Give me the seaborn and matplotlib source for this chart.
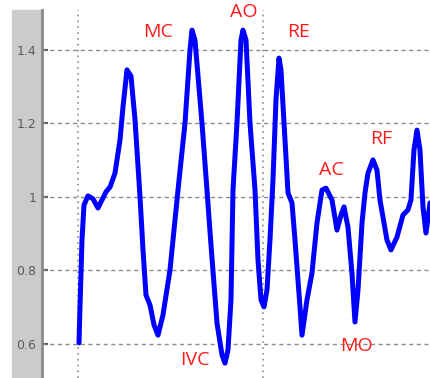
import numpy as np
import pandas as pd
import seaborn as sns
import matplotlib.pyplot as plt
from matplotlib.patches import Rectangle

# signal (time in s, amplitude)
t = [0.5027, 0.5054, 0.5108, 0.5162, 0.527, 0.5405, 0.554, 0.5649, 0.5757, 0.5865,
     0.6, 0.6135, 0.6216, 0.6324, 0.6432, 0.6541, 0.6676, 0.6757, 0.6838, 0.6946,
     0.7054, 0.7162, 0.7297, 0.7486, 0.7703, 0.7892, 0.8027, 0.8081, 0.8162, 0.8351,
     0.8486, 0.8595, 0.8757, 0.8892, 0.8973, 0.9054, 0.9135, 0.9189, 0.9297, 0.9405,
     0.9459, 0.9541, 0.9649, 0.9784, 0.9865, 0.9946, 1.0027, 1.0108, 1.0189, 1.027,
     1.0351, 1.0432, 1.0486, 1.0595, 1.0676, 1.0784, 1.0865, 1.1, 1.1054, 1.1189,
     1.1324, 1.1459, 1.1595, 1.1703, 1.1865, 1.2, 1.2108, 1.2189, 1.2297, 1.2405,
     1.2486, 1.2568, 1.2676, 1.2757, 1.2838, 1.2973, 1.3081, 1.3162, 1.3351, 1.3459,
     1.3622, 1.3784, 1.3919, 1.4, 1.4081, 1.4162, 1.4243, 1.4324, 1.4405, 1.4514]
amp = [0.603, 0.701, 0.883, 0.978, 1.003, 0.995, 0.970, 0.992, 1.014, 1.027,
       1.065, 1.155, 1.245, 1.346, 1.329, 1.210, 1.000, 0.856, 0.733, 0.706,
       0.652, 0.624, 0.679, 0.801, 1.019, 1.201, 1.400, 1.454, 1.427, 1.201,
       1.019, 0.869, 0.657, 0.570, 0.548, 0.584, 0.720, 1.019, 1.201, 1.427,
       1.454, 1.427, 1.201, 1.019, 0.829, 0.720, 0.701, 0.747, 0.883, 1.046,
       1.264, 1.378, 1.346, 1.155, 1.011, 0.984, 0.883, 0.701, 0.624, 0.720,
       0.793, 0.929, 1.019, 1.024, 0.992, 0.910, 0.951, 0.973, 0.918, 0.793,
       0.660, 0.747, 0.929, 1.011, 1.065, 1.101, 1.073, 0.992, 0.883, 0.856,
       0.891, 0.951, 0.965, 0.992, 1.128, 1.182, 1.128, 0.973, 0.902, 0.984]

labels = ['MC', 'AO', 'RE', 'AC', 'RF', 'IVC', 'MO']
label_t = [0.716, 0.949, 1.095, 1.184, 1.319, 0.816, 1.254]
label_amp = [1.449, 1.503, 1.449, 1.073, 1.158, 0.556, 0.595]

yticks = [0.6, 0.8, 1.0, 1.2, 1.4]
ytick_labels = ['0.6', '0.8', '1', '1.2', '1.4']
xticks = [0.5, 1.0]

sns.set_style('white')
plt.rcParams['font.family'] = ['DejaVu Sans']

fig = plt.figure(figsize=(4.3, 3.78), dpi=100)
# grey strip behind the y tick labels
fig.patches.append(Rectangle((12 / 430, 0), 30 / 430, 368 / 378,
                             transform=fig.transFigure, color='#cbcbcb', zorder=-1))
ax = fig.add_axes([42 / 430, 0, 388 / 430, 368 / 378])

df = pd.DataFrame({'t': t, 'amp': amp})
sns.lineplot(data=df, x='t', y='amp', sort=False, color='#0000ff', lw=3.6, ax=ax,
             solid_joinstyle='round', solid_capstyle='round', zorder=3)

ax.set_xlim(0.4027, 1.4514)
ax.set_ylim(0.5075, 1.5088)
ax.set_yticks(yticks)
ax.set_yticklabels(ytick_labels)
ax.set_xticks(xticks)
ax.set_xticklabels([])
ax.set_xlabel('')
ax.set_ylabel('')

for v in yticks:
    ax.axhline(v, color='#8c8c8c', lw=1, ls=(0, (3, 2.5)), zorder=1)
for v in xticks:
    ax.axvline(v, color='#8c8c8c', lw=1.2, ls=(0, (1, 2.5)), zorder=1)

for s in ['top', 'right', 'bottom']:
    ax.spines[s].set_visible(False)
ax.spines['left'].set_color('#8a8a8a')
ax.spines['left'].set_linewidth(2)

ax.tick_params(axis='y', direction='in', length=4, width=1.5, color='#555555',
               labelsize=9, labelcolor='#5a5a5a', pad=4, left=True)
ax.tick_params(axis='x', length=0)

for lab, lx, ly in zip(labels, label_t, label_amp):
    ax.text(lx, ly, lab, color='#ff1a1a', fontsize=14, ha='center', va='center',
            family='Open Sans', zorder=4)

fig.savefig('out.png', dpi=100)
